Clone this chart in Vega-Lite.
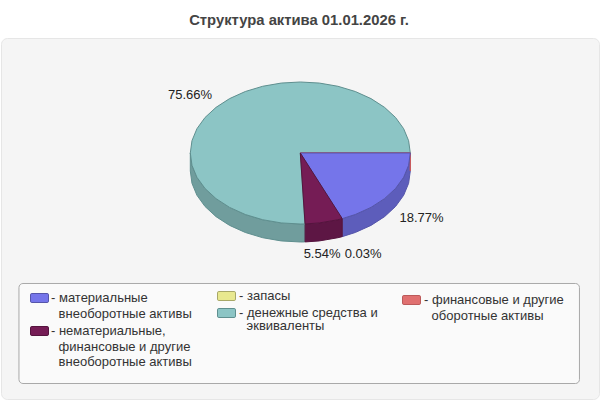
{"$schema":"https://vega.github.io/schema/vega-lite/v6.json","width":598,"height":361,"padding":{"left":1,"top":38,"right":1,"bottom":1},"autosize":"none","background":"#ffffff",
"title":{"text":"Структура актива 01.01.2026 г.","font":"Liberation Sans","fontSize":14.8,"fontWeight":"bold","color":"#444444","anchor":"middle","offset":10,"dx":-1},
"view":{"fill":"#f5f5f5","stroke":"#e6e6e6","cornerRadius":6},
"datasets":{
"wall":[
{"s":"денежные","i":1,"x":0.0419,"y":0.9991},{"s":"денежные","i":2,"x":0,"y":1},{"s":"денежные","i":3,"x":-0.1736,"y":0.9848},{"s":"денежные","i":4,"x":-0.342,"y":0.9397},{"s":"денежные","i":5,"x":-0.5,"y":0.866},{"s":"денежные","i":6,"x":-0.6428,"y":0.766},{"s":"денежные","i":7,"x":-0.766,"y":0.6428},{"s":"денежные","i":8,"x":-0.866,"y":0.5},{"s":"денежные","i":9,"x":-0.9397,"y":0.342},{"s":"денежные","i":10,"x":-0.9848,"y":0.1736},{"s":"денежные","i":11,"x":-1,"y":0},
{"s":"денежные","i":12,"x":-1,"y":0.2535},{"s":"денежные","i":13,"x":-0.9848,"y":0.4271},{"s":"денежные","i":14,"x":-0.9397,"y":0.5955},{"s":"денежные","i":15,"x":-0.866,"y":0.7535},{"s":"денежные","i":16,"x":-0.766,"y":0.8963},{"s":"денежные","i":17,"x":-0.6428,"y":1.0195},{"s":"денежные","i":18,"x":-0.5,"y":1.1195},{"s":"денежные","i":19,"x":-0.342,"y":1.1932},{"s":"денежные","i":20,"x":-0.1736,"y":1.2383},{"s":"денежные","i":21,"x":0,"y":1.2535},{"s":"денежные","i":22,"x":0.0419,"y":1.2526},
{"s":"материальные","i":1,"x":1,"y":0},{"s":"материальные","i":2,"x":0.9848,"y":0.1736},{"s":"материальные","i":3,"x":0.9397,"y":0.342},{"s":"материальные","i":4,"x":0.866,"y":0.5},{"s":"материальные","i":5,"x":0.766,"y":0.6428},{"s":"материальные","i":6,"x":0.6428,"y":0.766},{"s":"материальные","i":7,"x":0.5,"y":0.866},{"s":"материальные","i":8,"x":0.3811,"y":0.9245},
{"s":"материальные","i":9,"x":0.3811,"y":1.178},{"s":"материальные","i":10,"x":0.5,"y":1.1195},{"s":"материальные","i":11,"x":0.6428,"y":1.0195},{"s":"материальные","i":12,"x":0.766,"y":0.8963},{"s":"материальные","i":13,"x":0.866,"y":0.7535},{"s":"материальные","i":14,"x":0.9397,"y":0.5955},{"s":"материальные","i":15,"x":0.9848,"y":0.4271},{"s":"материальные","i":16,"x":1,"y":0.2535},
{"s":"нематериальные","i":1,"x":0.3811,"y":0.9245},{"s":"нематериальные","i":2,"x":0.342,"y":0.9397},{"s":"нематериальные","i":3,"x":0.1736,"y":0.9848},{"s":"нематериальные","i":4,"x":0.0436,"y":0.999},{"s":"нематериальные","i":5,"x":0.0436,"y":1.2525},{"s":"нематериальные","i":6,"x":0.1736,"y":1.2383},{"s":"нематериальные","i":7,"x":0.342,"y":1.1932},{"s":"нематериальные","i":8,"x":0.3811,"y":1.178},
{"s":"финансовые","i":1,"x":1,"y":0},{"s":"финансовые","i":2,"x":1,"y":0.2535}
],
"top":[
{"s":"запасы","i":0,"x":0,"y":0},{"s":"запасы","i":1,"x":0.0436,"y":0.999},{"s":"запасы","i":2,"x":0.0419,"y":0.9991},
{"s":"денежные","i":0,"x":0,"y":0},{"s":"денежные","i":1,"x":0.0419,"y":0.9991},{"s":"денежные","i":2,"x":0,"y":1},{"s":"денежные","i":3,"x":-0.1736,"y":0.9848},{"s":"денежные","i":4,"x":-0.342,"y":0.9397},{"s":"денежные","i":5,"x":-0.5,"y":0.866},{"s":"денежные","i":6,"x":-0.6428,"y":0.766},{"s":"денежные","i":7,"x":-0.766,"y":0.6428},{"s":"денежные","i":8,"x":-0.866,"y":0.5},{"s":"денежные","i":9,"x":-0.9397,"y":0.342},{"s":"денежные","i":10,"x":-0.9848,"y":0.1736},{"s":"денежные","i":11,"x":-1,"y":0},{"s":"денежные","i":12,"x":-0.9848,"y":-0.1736},{"s":"денежные","i":13,"x":-0.9397,"y":-0.342},{"s":"денежные","i":14,"x":-0.866,"y":-0.5},{"s":"денежные","i":15,"x":-0.766,"y":-0.6428},{"s":"денежные","i":16,"x":-0.6428,"y":-0.766},{"s":"денежные","i":17,"x":-0.5,"y":-0.866},{"s":"денежные","i":18,"x":-0.342,"y":-0.9397},{"s":"денежные","i":19,"x":-0.1736,"y":-0.9848},{"s":"денежные","i":20,"x":0,"y":-1},{"s":"денежные","i":21,"x":0.1736,"y":-0.9848},{"s":"денежные","i":22,"x":0.342,"y":-0.9397},{"s":"денежные","i":23,"x":0.5,"y":-0.866},{"s":"денежные","i":24,"x":0.6428,"y":-0.766},{"s":"денежные","i":25,"x":0.766,"y":-0.6428},{"s":"денежные","i":26,"x":0.866,"y":-0.5},{"s":"денежные","i":27,"x":0.9397,"y":-0.342},{"s":"денежные","i":28,"x":0.9848,"y":-0.1736},{"s":"денежные","i":29,"x":1,"y":0},
{"s":"финансовые","i":0,"x":0,"y":0},{"s":"финансовые","i":1,"x":1,"y":0},
{"s":"материальные","i":0,"x":0,"y":0},{"s":"материальные","i":1,"x":1,"y":0},{"s":"материальные","i":2,"x":0.9848,"y":0.1736},{"s":"материальные","i":3,"x":0.9397,"y":0.342},{"s":"материальные","i":4,"x":0.866,"y":0.5},{"s":"материальные","i":5,"x":0.766,"y":0.6428},{"s":"материальные","i":6,"x":0.6428,"y":0.766},{"s":"материальные","i":7,"x":0.5,"y":0.866},{"s":"материальные","i":8,"x":0.3811,"y":0.9245},
{"s":"нематериальные","i":0,"x":0,"y":0},{"s":"нематериальные","i":1,"x":0.3811,"y":0.9245},{"s":"нематериальные","i":2,"x":0.342,"y":0.9397},{"s":"нематериальные","i":3,"x":0.1736,"y":0.9848},{"s":"нематериальные","i":4,"x":0.0436,"y":0.999}
],
"labels":[
{"s":"материальные","share":0.1877,"x":1.102,"y":0.915},
{"s":"нематериальные","share":0.0554,"x":0.198,"y":1.423},
{"s":"запасы","share":0.0003,"x":0.571,"y":1.423},
{"s":"денежные","share":0.7566,"x":-1.002,"y":-0.817}
]},
"encoding":{
"x":{"field":"x","type":"quantitative","axis":null,"scale":{"domain":[-2.7209,2.7155],"nice":false,"zero":false}},
"y":{"field":"y","type":"quantitative","axis":null,"scale":{"domain":[-1.6197,3.4648],"reverse":true,"nice":false,"zero":false}}
},
"layer":[
{"data":{"values":[{"x":-2.5576,"x2":2.5378,"y":1.838,"y2":3.2465}]},"mark":{"type":"rect","fill":"#fafafa","stroke":"#a9a9a9","strokeWidth":1,"cornerRadius":4,"clip":false},
"encoding":{"x2":{"field":"x2"},"y2":{"field":"y2"}}},
{"data":{"name":"wall"},"mark":{"type":"line","interpolate":"linear-closed","strokeWidth":1,"clip":false},
"encoding":{"order":{"field":"i"},
"fill":{"field":"s","type":"nominal","legend":null,"scale":{"domain":["материальные","нематериальные","денежные","финансовые"],"range":["#5d5dbb","#5d1644","#709d9d","#b35959"]}},
"stroke":{"field":"s","type":"nominal","legend":null,"scale":{"domain":["материальные","нематериальные","денежные","финансовые"],"range":["#5555aa","#55143e","#5f8f8f","#cc5a5a"]}}}},
{"data":{"name":"top"},"transform":[{"filter":"datum.s=='запасы'||datum.s=='денежные'"}],"mark":{"type":"line","interpolate":"linear-closed","strokeWidth":1,"clip":false},
"encoding":{"order":{"field":"i"},
"fill":{"field":"s","type":"nominal","scale":{"domain":["запасы","денежные"],"range":["#e8e88f","#8cc5c5"]},
"legend":{"title":null,"orient":"none","legendX":216,"legendY":248.5,"direction":"vertical","rowPadding":-2,"padding":0,
"symbolType":"M-0.85,-0.5H0.85Q1,-0.5 1,-0.35V0.35Q1,0.5 0.85,0.5H-0.85Q-1,0.5 -1,0.35V-0.35Q-1,-0.5 -0.85,-0.5Z","symbolSize":324,"symbolStrokeColor":"#999999","symbolStrokeWidth":1,"labelOffset":3,"labelFont":"Liberation Sans","labelFontSize":13,"labelColor":"#333333","labelLimit":0,
"encoding":{"labels":{"lineHeight":{"value":13}}},
"labelExpr":"{'запасы':'- запасы','денежные':['- денежные средства и','\u200b\u2002\u200aэквиваленты']}[datum.value]"}},
"stroke":{"field":"s","type":"nominal","legend":null,"scale":{"domain":["запасы","денежные"],"range":["#a8a868","#5f8f8f"]}}}},
{"data":{"name":"top"},"transform":[{"filter":"datum.s=='финансовые'"}],"mark":{"type":"line","interpolate":"linear-closed","strokeWidth":1,"clip":false},
"encoding":{"order":{"field":"i"},
"fill":{"field":"s","type":"nominal","scale":{"domain":["финансовые"],"range":["#e07070"]},
"legend":{"title":null,"orient":"none","legendX":401,"legendY":252.5,"direction":"vertical","padding":0,
"symbolType":"M-0.85,-0.5H0.85Q1,-0.5 1,-0.35V0.35Q1,0.5 0.85,0.5H-0.85Q-1,0.5 -1,0.35V-0.35Q-1,-0.5 -0.85,-0.5Z","symbolSize":324,"symbolStrokeColor":"#999999","symbolStrokeWidth":1,"labelOffset":3,"labelFont":"Liberation Sans","labelFontSize":13,"labelColor":"#333333","labelLimit":0,
"encoding":{"labels":{"lineHeight":{"value":15.7}}},
"labelExpr":"{'финансовые':['- финансовые и другие','\u200b\u2002\u200aоборотные активы']}[datum.value]"}},
"stroke":{"field":"s","type":"nominal","legend":null,"scale":{"domain":["финансовые"],"range":["#bb5a5a"]}}}},
{"data":{"name":"top"},"transform":[{"filter":"datum.s=='материальные'||datum.s=='нематериальные'"}],"mark":{"type":"line","interpolate":"linear-closed","strokeWidth":1,"clip":false},
"encoding":{"order":{"field":"i"},
"fill":{"field":"s","type":"nominal","scale":{"domain":["материальные","нематериальные"],"range":["#7575ea","#751c55"]},
"legend":{"title":null,"orient":"none","legendX":29,"legendY":250.5,"direction":"vertical","rowPadding":-1,"padding":0,
"symbolType":"M-0.85,-0.5H0.85Q1,-0.5 1,-0.35V0.35Q1,0.5 0.85,0.5H-0.85Q-1,0.5 -1,0.35V-0.35Q-1,-0.5 -0.85,-0.5Z","symbolSize":324,"symbolStrokeColor":"#999999","symbolStrokeWidth":1,"labelOffset":2,"labelFont":"Liberation Sans","labelFontSize":13,"labelColor":"#333333","labelLimit":0,
"encoding":{"labels":{"lineHeight":{"value":15.7}}},
"labelExpr":"{'материальные':['- материальные','\u200b\u2002\u200aвнеоборотные активы'],'нематериальные':['- нематериальные,','\u200b\u2002\u200aфинансовые и другие','\u200b\u2002\u200aвнеоборотные активы']}[datum.value]"}},
"stroke":{"field":"s","type":"nominal","legend":null,"scale":{"domain":["материальные","нематериальные"],"range":["#5555aa","#55143e"]}}}},
{"data":{"name":"labels"},"mark":{"type":"text","font":"Liberation Sans","fontSize":13,"color":"#222222"},
"encoding":{"text":{"field":"share","type":"quantitative","format":".2%"}}}
],
"resolve":{"scale":{"fill":"independent","stroke":"independent"}}
}
